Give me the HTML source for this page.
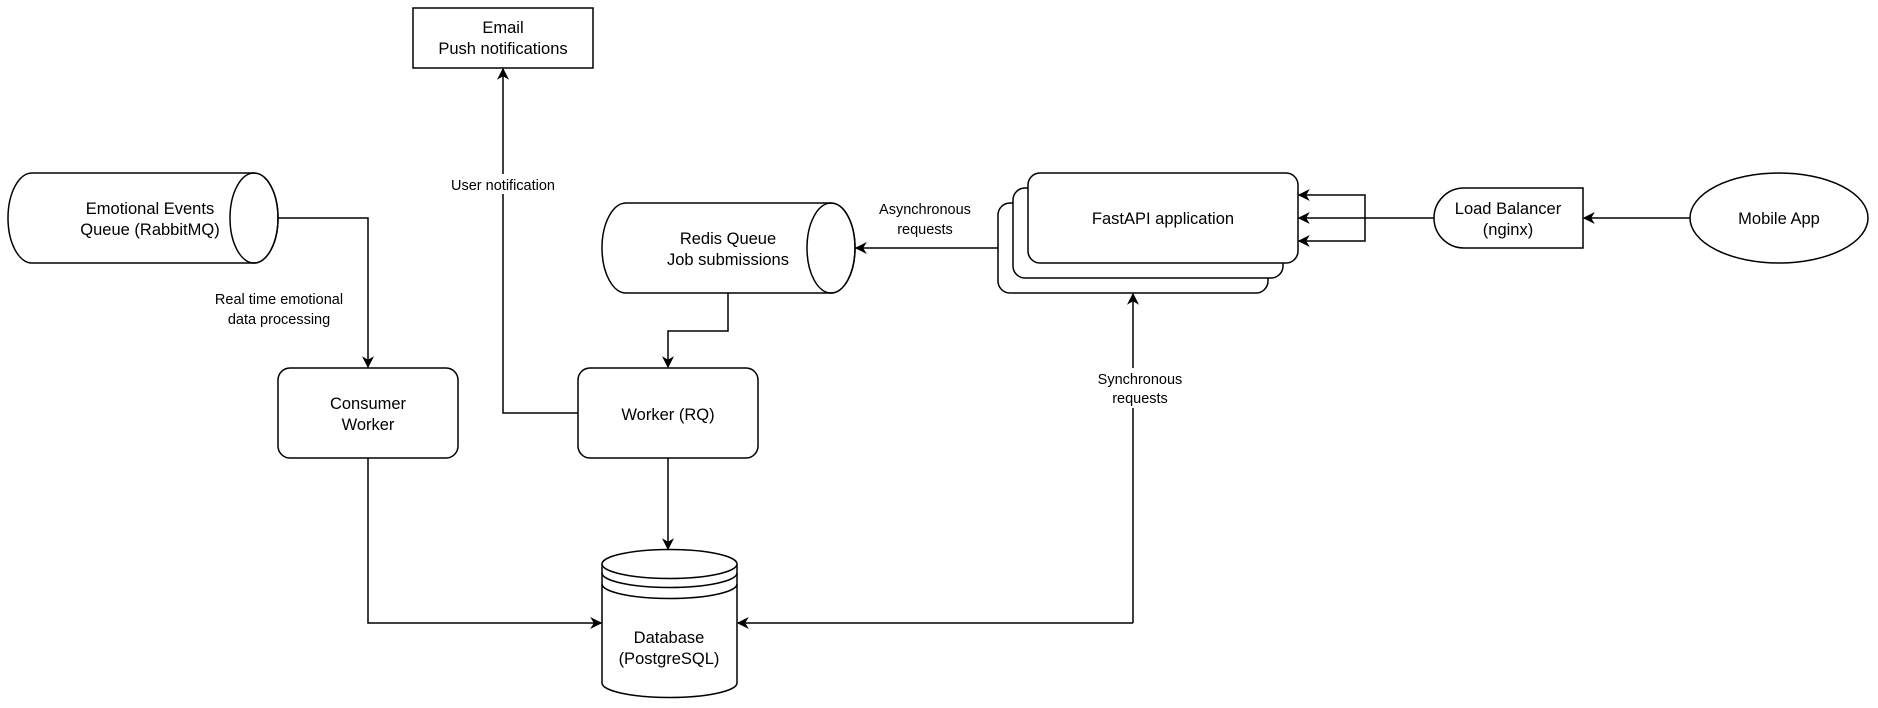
<!DOCTYPE html>
<html><head><meta charset="utf-8"><style>
html,body{margin:0;padding:0;background:#fff;}
svg{display:block;}
text{font-family:"Liberation Sans",Arial,sans-serif;fill:#000;}
.n{font-size:16.5px;}
.l{font-size:14.5px;}
</style></head><body>
<svg width="1878" height="708" viewBox="0 0 1878 708" xmlns="http://www.w3.org/2000/svg">
<defs>
<marker id="a" viewBox="0 0 10 10" refX="9" refY="5" markerWidth="12" markerHeight="12" markerUnits="userSpaceOnUse" orient="auto">
<path d="M0,0 L10,5 L0,10 L3,5 Z" fill="#000"/>
</marker>
</defs>
<g fill="none" stroke="#000" stroke-width="1.5">
<rect x="413" y="8" width="180" height="60" fill="#fff"/>
<path d="M32,173 L254,173 A24,45 0 0 1 254,263 L32,263 A24,45 0 0 1 32,173 Z" fill="#fff"/>
<ellipse cx="254" cy="218" rx="24" ry="45"/>
<path d="M626,203 L831,203 A24,45 0 0 1 831,293 L626,293 A24,45 0 0 1 626,203 Z" fill="#fff"/>
<ellipse cx="831" cy="248" rx="24" ry="45"/>
<rect x="278" y="368" width="180" height="90" rx="12" fill="#fff"/>
<rect x="578" y="368" width="180" height="90" rx="12" fill="#fff"/>
<path d="M602,564 L602,683 A67.5,14.5 0 0 0 737,683 L737,564" fill="#fff"/>
<ellipse cx="669.5" cy="564" rx="67.5" ry="14.5" fill="#fff"/>
<path d="M602,573 A67.5,14.5 0 0 0 737,573"/>
<path d="M602,584 A67.5,14.5 0 0 0 737,584"/>
<rect x="998" y="203" width="270" height="90" rx="12" fill="#fff"/>
<rect x="1013" y="188" width="270" height="90" rx="12" fill="#fff"/>
<rect x="1028" y="173" width="270" height="90" rx="12" fill="#fff"/>
<path d="M1464,188 L1583,188 L1583,248 L1464,248 A30,30 0 0 1 1434,218 A30,30 0 0 1 1464,188 Z" fill="#fff"/>
<ellipse cx="1779" cy="218" rx="89" ry="45" fill="#fff"/>
<path d="M278,218 L368,218 L368,367" marker-end="url(#a)"/>
<path d="M728,293 L728,331 L668,331 L668,367" marker-end="url(#a)"/>
<path d="M578,413 L503,413 L503,69" marker-end="url(#a)"/>
<path d="M368,458 L368,623 L601,623" marker-end="url(#a)"/>
<path d="M668,458 L668,549" marker-end="url(#a)"/>
<path d="M998,248 L856,248" marker-end="url(#a)"/>
<path d="M1133,623 L738,623" marker-end="url(#a)"/>
<path d="M1133,623 L1133,294" marker-end="url(#a)"/>
<path d="M1690,218 L1584,218" marker-end="url(#a)"/>
<path d="M1434,218 L1299,218" marker-end="url(#a)"/>
<path d="M1365,218 L1365,195 L1299,195" marker-end="url(#a)"/>
<path d="M1365,218 L1365,241 L1299,241" marker-end="url(#a)"/>
</g>
<g text-anchor="middle">
<text class="n" x="503" y="33">Email</text>
<text class="n" x="503" y="54">Push notifications</text>
<text class="n" x="150" y="214">Emotional Events</text>
<text class="n" x="150" y="235">Queue (RabbitMQ)</text>
<text class="n" x="728" y="244">Redis Queue</text>
<text class="n" x="728" y="265">Job submissions</text>
<text class="n" x="368" y="409">Consumer</text>
<text class="n" x="368" y="430">Worker</text>
<text class="n" x="668" y="420">Worker (RQ)</text>
<text class="n" x="669" y="643">Database</text>
<text class="n" x="669" y="664">(PostgreSQL)</text>
<text class="n" x="1163" y="224">FastAPI application</text>
<text class="n" x="1508" y="214">Load Balancer</text>
<text class="n" x="1508" y="235">(nginx)</text>
<text class="n" x="1779" y="224">Mobile App</text>
</g>
<g text-anchor="middle" class="l">
<rect x="440" y="174" width="126" height="20" fill="#fff"/>
<text class="l" x="503" y="190">User notification</text>
<text class="l" x="279" y="304">Real time emotional</text>
<text class="l" x="279" y="324">data processing</text>
<text class="l" x="925" y="214">Asynchronous</text>
<text class="l" x="925" y="234">requests</text>
<rect x="1086" y="368" width="96" height="40" fill="#fff"/>
<text class="l" x="1140" y="384">Synchronous</text>
<text class="l" x="1140" y="403">requests</text>
</g>
</svg>
</body></html>
